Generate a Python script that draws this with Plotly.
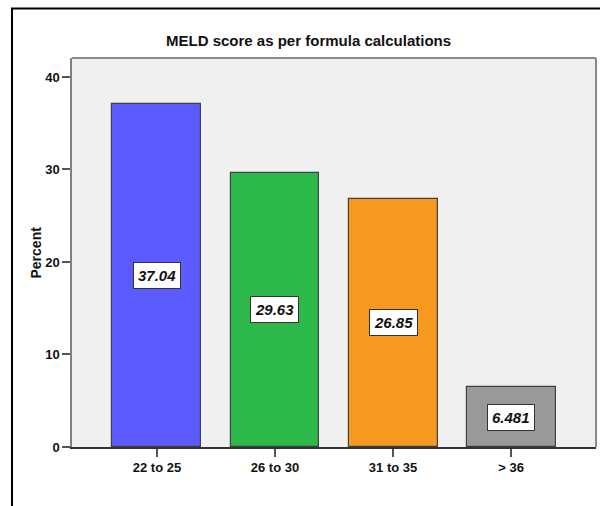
import plotly.graph_objects as go

# MELD score groups and their share of patients (%)
categories = ["22 to 25", "26 to 30", "31 to 35", "> 36"]
percent = [37.04, 29.63, 26.85, 6.481]
value_labels = ["37.04", "29.63", "26.85", "6.481"]
bar_colors = ["#5b5bff", "#2db84b", "#f7981f", "#999999"]
y_ticks = [0, 10, 20, 30, 40]

FONT = "Liberation Sans, Arial, sans-serif"

W, H = 600, 506
L, R, T, B = 72, 4, 58, 59
pw, ph = W - L - R, H - T - B


def px_x(px):
    return (px - L) / pw


def px_y(py):
    return (H - B - py) / ph


fig = go.Figure()
fig.add_trace(go.Bar(
    x=list(range(len(categories))),
    y=percent,
    width=0.754,
    marker=dict(color=bar_colors, line=dict(color="#404040", width=1.2)),
    hoverinfo="skip",
))

# value boxes centred on each bar
for i, (v, lab) in enumerate(zip(percent, value_labels)):
    fig.add_annotation(
        x=i, y=v / 2, xref="x", yref="y",
        text=f"<b><i>{lab}</i></b>", showarrow=False,
        font=dict(family=FONT, size=15, color="#111111"),
        bgcolor="white", bordercolor="#333333", borderwidth=1, borderpad=4,
    )

# chart title and y-axis title
fig.add_annotation(
    x=px_x(308), y=px_y(41), xref="paper", yref="paper",
    text="<b>MELD score as per formula calculations</b>", showarrow=False,
    font=dict(family=FONT, size=15, color="#111111"),
    xanchor="center", yanchor="middle",
)
fig.add_annotation(
    x=px_x(35), y=0.5, xref="paper", yref="paper",
    text="<b>Percent</b>", showarrow=False, textangle=-90,
    font=dict(family=FONT, size=14, color="#111111"),
    xanchor="center", yanchor="middle",
)

# outer chart frame (open to the right and bottom)
fig.add_shape(type="rect", xref="paper", yref="paper",
              x0=px_x(12), x1=px_x(620), y0=px_y(530), y1=px_y(8.5),
              line=dict(color="#000000", width=2), layer="above")
# top and right borders of the plot area
fig.add_shape(type="line", xref="paper", yref="paper",
              x0=0, x1=1, y0=1, y1=1, line=dict(color="#8a8a8a", width=2))
fig.add_shape(type="line", xref="paper", yref="paper",
              x0=1, x1=1, y0=0, y1=1, line=dict(color="#8a8a8a", width=2))

fig.update_layout(
    width=W, height=H,
    margin=dict(l=L, r=R, t=T, b=B),
    paper_bgcolor="white",
    plot_bgcolor="#f0f0f0",
    showlegend=False,
    bargap=0,
    xaxis=dict(
        range=[-0.72, 3.72],
        tickmode="array",
        tickvals=list(range(len(categories))),
        ticktext=[f"<b>{c}</b>" for c in categories],
        ticks="outside", ticklen=8, tickwidth=1.5, tickcolor="#555555",
        showline=True, linecolor="#333333", linewidth=1.5,
        showgrid=False, zeroline=False,
        tickfont=dict(family=FONT, size=13, color="#111111"),
        fixedrange=True,
    ),
    yaxis=dict(
        range=[0, 42.05],
        tickmode="array",
        tickvals=y_ticks,
        ticktext=[f"<b>{t}</b>" for t in y_ticks],
        ticks="outside", ticklen=8, tickwidth=1.5, tickcolor="#555555",
        showline=True, linecolor="#808080", linewidth=1.5,
        showgrid=False, zeroline=False,
        tickfont=dict(family=FONT, size=13, color="#111111"),
        fixedrange=True,
    ),
)

fig.write_html("out.html", config={"displayModeBar": False})
